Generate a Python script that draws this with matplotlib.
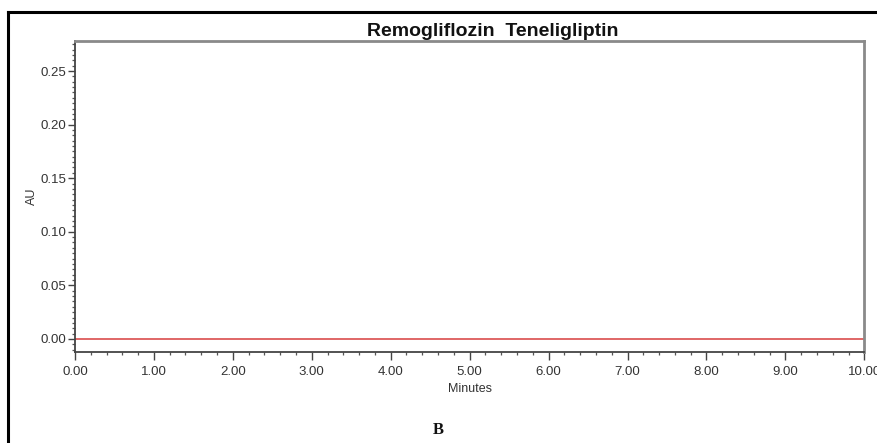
import matplotlib.pyplot as plt
from matplotlib.lines import Line2D
from matplotlib.ticker import MultipleLocator, FormatStrFormatter

# Chromatogram baseline (blank run)
minutes = [0.0, 2.0, 4.0, 6.0, 8.0, 10.0]
au = [0.0, 0.0, 0.0, 0.0, 0.0, 0.0]

title = "Remogliflozin  Teneligliptin"
panel_label = "B"

plt.rcParams['font.family'] = ['Liberation Sans', 'DejaVu Sans']

fig = plt.figure(figsize=(8.78, 4.43), dpi=100)
ax = fig.add_axes([0.0854, 0.2054, 0.899, 0.702])

ax.plot(minutes, au, color='#e06666', linewidth=1.4)

ax.set_xlim(0, 10)
ax.set_ylim(-0.0122, 0.278)

ax.xaxis.set_major_locator(MultipleLocator(1.0))
ax.xaxis.set_minor_locator(MultipleLocator(0.2))
ax.xaxis.set_major_formatter(FormatStrFormatter('%.2f'))
ax.yaxis.set_major_locator(MultipleLocator(0.05))
ax.yaxis.set_minor_locator(MultipleLocator(0.005))
ax.yaxis.set_major_formatter(FormatStrFormatter('%.2f'))

ax.tick_params(axis='both', which='major', direction='out', length=5, width=1.0,
               color='#444444', labelsize=9.5, labelcolor='#333333', pad=1.5)
ax.tick_params(axis='both', which='minor', direction='out', length=2.5, width=0.9,
               color='#555555')
ax.tick_params(axis='x', which='major', length=6, pad=4)

for side in ['left', 'bottom']:
    ax.spines[side].set_color('#444444')
    ax.spines[side].set_linewidth(1.3)
for side in ['top', 'right']:
    ax.spines[side].set_color('#8a8a8a')
    ax.spines[side].set_linewidth(2.0)

ax.set_xlabel("Minutes", fontsize=9, color='#333333', labelpad=4)
ax.set_ylabel("AU", fontsize=9, color='#333333', labelpad=1.5)

fig.text(0.5615, 0.930, title, ha='center', va='center', fontsize=14,
         fontweight='bold', color='#111111')
fig.text(0.499, 0.029, panel_label, ha='center', va='center', fontsize=12,
         fontweight='bold', family=['Liberation Serif', 'DejaVu Serif'], color='#111111')

# outer frame of the figure panel
fig.add_artist(Line2D([8 / 878, 8 / 878], [0, 1 - 12 / 443], color='black', linewidth=2.2,
                      transform=fig.transFigure))
fig.add_artist(Line2D([8 / 878, 1], [1 - 12 / 443, 1 - 12 / 443], color='black', linewidth=2.2,
                      transform=fig.transFigure))

fig.savefig('out.png', dpi=100)
